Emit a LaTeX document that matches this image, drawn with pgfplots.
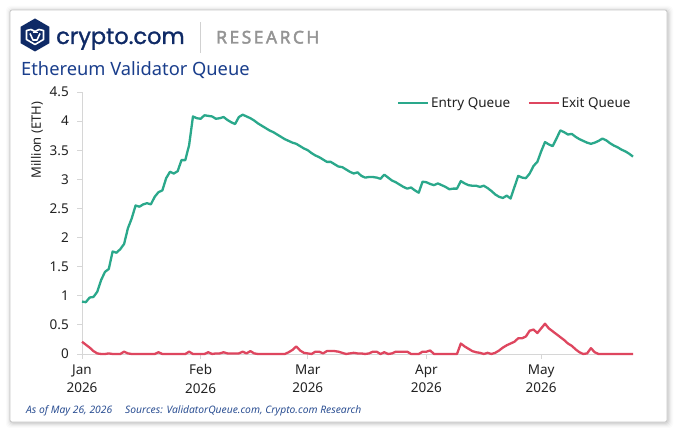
\documentclass[border=0pt]{standalone}
\usepackage{pgfplots}
\pgfplotsset{compat=1.18}
\usepackage{fontspec}
\setmainfont{Noto Sans}
\newfontfamily\poppins[FakeBold=1.2]{Poppins}
\newfontfamily\resfont[LetterSpace=14,FakeBold=2.2]{Noto Sans}
\definecolor{entry}{HTML}{2AA88B}
\definecolor{exitc}{HTML}{DE465F}
\definecolor{navy}{HTML}{0F2A66}
\definecolor{titleblue}{HTML}{1A3E8C}
\definecolor{axisgray}{HTML}{D6D6D6}
\definecolor{foot}{HTML}{2B4F93}
\definecolor{txt}{HTML}{222222}

\pgfplotstableread{
d v
0 0.90
1 0.89
2 0.97
3 0.98
4 1.07
5 1.27
6 1.41
7 1.46
8 1.76
9 1.74
10 1.80
11 1.89
12 2.16
13 2.33
14 2.55
15 2.53
16 2.57
17 2.59
18 2.57
19 2.70
20 2.78
21 2.81
22 3.02
23 3.13
24 3.10
25 3.14
26 3.33
27 3.33
28 3.59
29 4.08
30 4.05
31 4.04
32 4.10
33 4.09
34 4.08
35 4.04
36 4.05
37 4.07
38 4.02
39 3.98
40 3.95
41 4.07
42 4.11
43 4.08
44 4.05
45 4.01
46 3.96
47 3.92
48 3.88
49 3.84
50 3.81
51 3.77
52 3.73
53 3.69
54 3.66
55 3.63
56 3.61
57 3.57
58 3.53
59 3.50
60 3.45
61 3.41
62 3.38
63 3.34
64 3.30
65 3.30
66 3.26
67 3.22
68 3.21
69 3.17
70 3.13
71 3.10
72 3.12
73 3.06
74 3.03
75 3.04
76 3.04
77 3.03
78 3.01
79 3.08
80 3.03
81 2.98
82 2.95
83 2.91
84 2.87
85 2.84
86 2.86
87 2.81
88 2.77
89 2.96
90 2.95
91 2.92
92 2.90
93 2.93
94 2.90
95 2.87
96 2.83
97 2.84
98 2.84
99 2.97
100 2.93
101 2.90
102 2.89
103 2.89
104 2.87
105 2.89
106 2.85
107 2.80
108 2.74
109 2.70
110 2.68
111 2.72
112 2.67
114 3.06
115 3.03
116 3.02
117 3.10
118 3.23
119 3.30
120 3.48
121 3.64
122 3.60
123 3.57
124 3.70
125 3.84
126 3.81
127 3.77
128 3.78
129 3.73
130 3.69
131 3.66
132 3.63
133 3.61
134 3.63
135 3.66
136 3.70
137 3.67
138 3.62
139 3.58
140 3.55
141 3.51
142 3.48
143 3.44
144 3.39
}\entrydata

\pgfplotstableread{
d v
0 0.21
1 0.16
2 0.11
3 0.05
4 0.01
5 0.00
6 0.00
7 0.01
8 0.00
10 0.00
11 0.04
12 0.01
13 0.00
19 0.00
20 0.03
21 0.00
27 0.00
28 0.04
29 0.00
32 0.00
33 0.03
34 0.00
35 0.01
36 0.01
37 0.03
38 0.01
40 0.01
41 0.01
42 0.04
43 0.01
44 0.05
45 0.01
46 0.00
53 0.00
54 0.03
55 0.07
56 0.13
57 0.06
58 0.02
59 0.01
60 0.00
61 0.04
62 0.04
63 0.01
64 0.05
65 0.05
66 0.05
67 0.04
68 0.02
69 0.00
70 0.01
71 0.02
72 0.01
73 0.01
74 0.00
75 0.01
76 0.04
77 0.04
78 0.00
79 0.03
80 0.00
81 0.01
82 0.04
83 0.04
84 0.04
85 0.04
86 0.00
87 0.00
88 0.00
89 0.04
90 0.04
91 0.06
92 0.00
98 0.00
99 0.18
100 0.13
101 0.09
102 0.05
103 0.03
104 0.02
105 0.00
106 0.02
107 0.00
108 0.02
109 0.06
110 0.11
111 0.15
112 0.18
113 0.21
114 0.27
115 0.27
116 0.30
117 0.40
118 0.42
119 0.36
120 0.44
121 0.52
122 0.44
123 0.39
124 0.34
125 0.29
126 0.24
127 0.18
128 0.14
129 0.08
130 0.03
131 0.00
132 0.01
133 0.10
134 0.03
135 0.00
144 0.00
}\exitdata

\begin{document}
\begin{tikzpicture}[x=1pt,y=1pt]
\path[use as bounding box] (0,0) rectangle (680,439);
\fill[white] (0,0) rectangle (680,439);
% card shadow
\foreach \i/\o in {5/0.015,4/0.02,3/0.03,2/0.04,1/0.05} {
  \fill[black,opacity=\o,rounded corners=4] (10-\i+1,17-\i-1) rectangle (667+\i+1,429+\i-1);
}
\draw[draw=black!22,fill=white,line width=0.8pt,rounded corners=2] (10,17) rectangle (667,429);

% logo icon
\begin{scope}[shift={(35,404)}]
\fill[navy] (90:16.5) -- (150:16.5) -- (210:16.5) -- (270:16.5) -- (330:16.5) -- (30:16.5) -- cycle;
\draw[white,line width=1.6pt,line join=round] (-8.5,4.5) -- (0,9.5) -- (8.5,4.5) -- (8.5,-4.5) -- (0,-9.5) -- (-8.5,-4.5) -- cycle;
\draw[white,line width=1.6pt,line join=round] (-5,1.5) -- (-2,-5) -- (2,-5) -- (5,1.5);
\draw[white,line width=1.4pt] (-2.5,2.5) -- (2.5,2.5);
\fill[navy] (-10,5) rectangle (10,11);
\draw[white,line width=1.6pt,line join=round] (-8.5,4.5) -- (-4,5.5) -- (0,3.5) -- (4,5.5) -- (8.5,4.5);
\end{scope}
\node[anchor=base west,inner sep=0pt,text=navy,font={\poppins\fontsize{22.5}{26}\selectfont}] at (56,395) {crypto.com};
\draw[black!18,line width=0.8pt] (200,386) -- (200,417);
\node[anchor=base west,inner sep=0pt,text=black!42,font={\resfont\fontsize{17.5}{20}\selectfont}] at (216,395.5) {RESEARCH};

% title
\node[anchor=base west,inner sep=0pt,text=titleblue,font={\fontsize{18.3}{21}\selectfont}] at (21,363) {Ethereum Validator Queue};

% y label
\node[rotate=90,inner sep=0pt,text=txt,font={\fontsize{13}{15}\selectfont}] at (37,299) {Million (ETH)};

% footer
\node[anchor=base west,inner sep=0pt,text=foot,font={\itshape\fontsize{10.3}{12}\selectfont}] at (26,25) {As of May 26, 2026};
\node[anchor=base west,inner sep=0pt,text=foot,font={\itshape\fontsize{10.3}{12}\selectfont}] at (125,25) {Sources: ValidatorQueue.com, Crypto.com Research};

\begin{axis}[
  at={(82pt,85pt)}, anchor=south west, scale only axis,
  width=551pt, height=262pt,
  xmin=0, xmax=144, ymin=0, ymax=4.5,
  axis x line*=bottom, axis y line*=left,
  axis line style={axisgray,line width=0.9pt},
  xtick={0,31,59,90,120},
  xticklabels={Jan\\2026,Feb\\2026,Mar\\2026,Apr\\2026,May\\2026},
  ytick={0,0.5,1,1.5,2,2.5,3,3.5,4,4.5},
  yticklabels={0,0.5,1,1.5,2,2.5,3,3.5,4,4.5},
  /pgf/number format/assume math mode=true,
  tick style={axisgray,line width=0.9pt},
  major tick length=5pt, tick align=outside,
  ticklabel style={text=txt,font={\fontsize{13.5}{18.5}\selectfont}},
  xticklabel style={align=center,inner sep=2pt,yshift=-3.5pt},
  yticklabel style={inner sep=0pt,xshift=-8pt},
  legend style={at={(1.004,0.958)},anchor=east,draw=none,fill=none,
    font={\fontsize{13.5}{16}\selectfont},text=txt,
    nodes={inner sep=1.5pt},
    /tikz/every even column/.append style={column sep=16pt}},
  legend columns=2,
  legend cell align=left,
  legend image code/.code={\draw[#1,line width=2.3pt] (0pt,0pt) -- (30pt,0pt);},
  clip=false,
]
\addplot[entry,line width=2.3pt,line join=round] table[x=d,y=v] {\entrydata};
\addlegendentry{Entry Queue}
\addplot[exitc,line width=2.3pt,line join=round] table[x=d,y=v] {\exitdata};
\addlegendentry{Exit Queue}
\end{axis}
\end{tikzpicture}
\end{document}
